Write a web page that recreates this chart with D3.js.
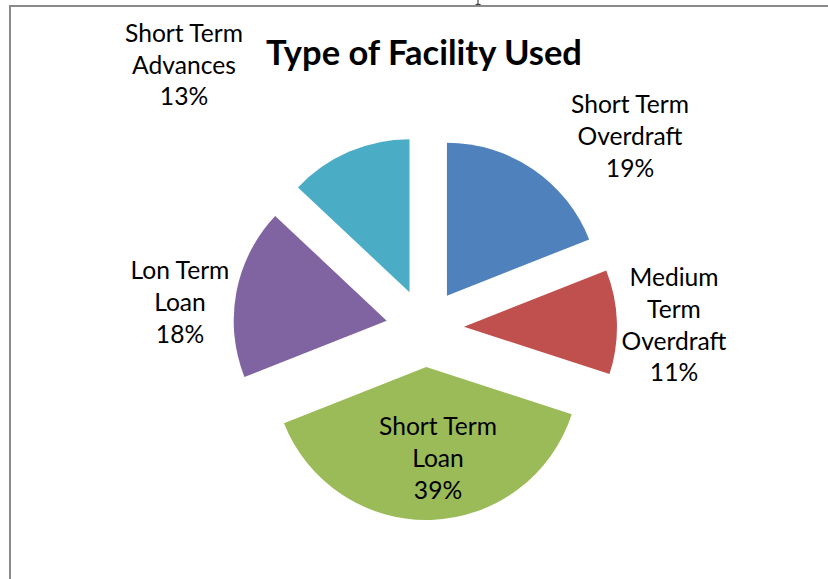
<!DOCTYPE html>
<html>
<head>
<meta charset="utf-8">
<script src="https://cdn.jsdelivr.net/npm/d3@7/dist/d3.min.js"></script>
<style>
  html, body { margin: 0; padding: 0; background: #fff; }
  svg { display: block; }
</style>
</head>
<body>
<svg id="chart" width="828" height="579"></svg>
<script>
// ---- data ----
const title = "Type of Facility Used";
const categories = ["Short Term Overdraft", "Medium Term Overdraft", "Short Term Loan", "Lon Term Loan", "Short Term Advances"];
const values = [19, 11, 39, 18, 13];
const labelLines = [
  ["Short Term", "Overdraft", "19%"],
  ["Medium", "Term", "Overdraft", "11%"],
  ["Short Term", "Loan", "39%"],
  ["Lon Term", "Loan", "18%"],
  ["Short Term", "Advances", "13%"]
];
const colors = ["#4F81BD", "#C0504D", "#9BBB59", "#8064A2", "#4BACC6"];

// ---- layout ----
const W = 828, H = 579;
const cx = 425, cy = 328, R = 153, explode = 39;
const labelPos = [
  {x: 630, y: 113},
  {x: 674, y: 286},
  {x: 438, y: 435},
  {x: 180, y: 279},
  {x: 184, y: 41.7}
];
const lineGap = 31.8;
const FONT = "Lato, 'Open Sans', 'DejaVu Sans', sans-serif";

const svg = d3.select("#chart");

// measurement helper for fitting font size to a target width
function fitSize(text, weight, target) {
  const t = svg.append("text").attr("font-family", FONT).attr("font-weight", weight)
    .attr("font-size", 100).text(text);
  const w = t.node().getComputedTextLength();
  t.remove();
  return 100 * target / w;
}
const labelSize = fitSize("Short Term", "normal", 118);
const titleSize = fitSize(title, "bold", 316);

// fragment of a glyph cut off above the frame (descender stroke)
svg.append("path")
  .attr("d", "M478,0 L478,4.2 M475.6,4.4 L480.6,4.4")
  .attr("fill", "none")
  .attr("stroke", "#222")
  .attr("stroke-width", 1);

// frame
svg.append("path")
  .attr("d", `M10,${H} L10,6 L${W},6`)
  .attr("fill", "none")
  .attr("stroke", "#8a8a8a")
  .attr("stroke-width", 2);

// pie
const pie = d3.pie().sort(null).value(d => d).startAngle(0).endAngle(2 * Math.PI);
const arcs = pie(values);
const arc = d3.arc().innerRadius(0).outerRadius(R);

const g = svg.append("g").attr("transform", `translate(${cx},${cy})`);
g.selectAll("path.slice")
  .data(arcs)
  .join("path")
  .attr("class", "slice")
  .attr("d", arc)
  .attr("fill", (d, i) => colors[i])
  .attr("transform", d => {
    const a = (d.startAngle + d.endAngle) / 2;
    return `translate(${explode * Math.sin(a)},${-explode * Math.cos(a)})`;
  });

// title
svg.append("text")
  .attr("x", 424).attr("y", 65)
  .attr("text-anchor", "middle")
  .attr("font-family", FONT)
  .attr("font-weight", "bold")
  .attr("font-size", titleSize)
  .attr("fill", "#000")
  .text(title);

// data labels
const lg = svg.append("g");
labelLines.forEach((lines, i) => {
  const t = lg.append("text")
    .attr("text-anchor", "middle")
    .attr("font-family", FONT)
    .attr("font-size", labelSize)
    .attr("fill", "#000");
  lines.forEach((ln, j) => {
    t.append("tspan")
      .attr("x", labelPos[i].x)
      .attr("y", labelPos[i].y + j * lineGap)
      .text(ln);
  });
});
</script>
</body>
</html>
